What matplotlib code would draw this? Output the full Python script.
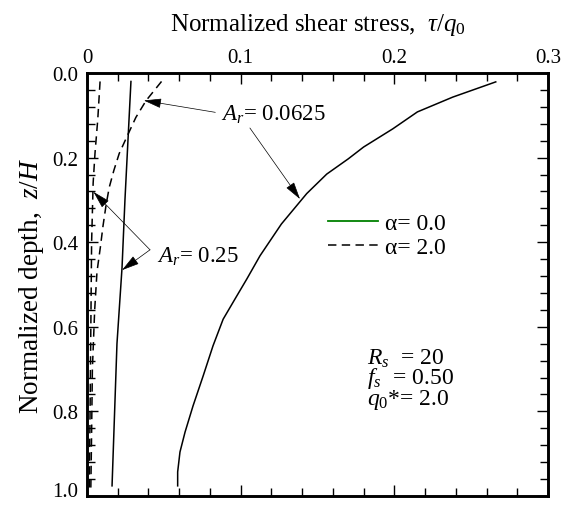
import matplotlib
matplotlib.use("Agg")
import matplotlib.pyplot as plt
from matplotlib.ticker import MultipleLocator

plt.rcParams["font.family"] = ["Liberation Serif", "DejaVu Serif"]
plt.rcParams["mathtext.fontset"] = "custom"
plt.rcParams["mathtext.rm"] = "Liberation Serif"
plt.rcParams["mathtext.it"] = "Liberation Serif:italic"

# A_r = 0.0625, alpha = 0.0 (solid)
z_a1 = [0.021, 0.057, 0.092, 0.132, 0.175, 0.203, 0.239, 0.285, 0.357, 0.432,
        0.487, 0.530, 0.582, 0.645, 0.716, 0.787, 0.849, 0.896, 0.943, 0.976]
tau_a1 = [0.266, 0.238, 0.215, 0.199, 0.180, 0.170, 0.156, 0.143, 0.1265, 0.1126,
          0.104, 0.097, 0.0886, 0.082, 0.0756, 0.069, 0.0638, 0.0605, 0.059, 0.059]

# A_r = 0.0625, alpha = 2.0 (dashed)
z_a2 = [0.020, 0.065, 0.105, 0.148, 0.19, 0.23, 0.27, 0.31, 0.362, 0.409,
        0.47, 0.56, 0.70, 0.85, 0.98]
tau_a2 = [0.0485, 0.0385, 0.0318, 0.0263, 0.021, 0.0175, 0.0145, 0.0125, 0.0104, 0.0088,
          0.0065, 0.005, 0.0035, 0.003, 0.0025]

# A_r = 0.25, alpha = 0.0 (solid)
z_b1 = [0.020, 0.30, 0.46, 0.64, 0.976]
tau_b1 = [0.0286, 0.0247, 0.0228, 0.0195, 0.0163]

# A_r = 0.25, alpha = 2.0 (dashed)
z_b2 = [0.02, 0.11, 0.19, 0.26, 0.40, 0.60, 0.80, 0.98]
tau_b2 = [0.0085, 0.007, 0.0052, 0.004, 0.003, 0.0025, 0.002, 0.0015]

x_ticks = [0, 0.1, 0.2, 0.3]
x_ticklabels = ["0", "0.1", "0.2", "0.3"]
y_ticks = [0.0, 0.2, 0.4, 0.6, 0.8, 1.0]
y_ticklabels = ["0.0", "0.2", "0.4", "0.6", "0.8", "1.0"]

fig = plt.figure(figsize=(5.62, 5.06), dpi=100)
ax = fig.add_axes([87 / 562, 1 - 497 / 506, 461 / 562, 423 / 506])

dash = (0, (5.5, 3.5))
lw = 1.1
ax.plot(tau_a1, z_a1, color="black", lw=lw)
ax.plot(tau_a2, z_a2, color="black", lw=lw, linestyle=dash)
ax.plot(tau_b1, z_b1, color="black", lw=lw)
ax.plot(tau_b2, z_b2, color="black", lw=lw, linestyle=dash)

# legend entries (proxy lines)
ax.plot([], [], color="green", lw=1.3, label="\u03b1= 0.0")
ax.plot([], [], color="black", lw=1.1, linestyle=dash, label="\u03b1= 2.0")
ax.legend(loc="upper left", bbox_to_anchor=(0.523, 0.67), frameon=False,
          fontsize=17, handlelength=2.1, handletextpad=0.3, labelspacing=0.12,
          borderaxespad=0, borderpad=0)

ax.set_xlim(0, 0.3)
ax.set_ylim(1.0, 0.0)
ax.set_xticks(x_ticks)
ax.set_xticklabels(x_ticklabels)
ax.set_yticks(y_ticks)
ax.set_yticklabels(y_ticklabels)
ax.xaxis.set_minor_locator(MultipleLocator(0.02))
ax.yaxis.set_minor_locator(MultipleLocator(0.04))
ax.tick_params(which="both", direction="in", top=True, bottom=True, left=True, right=True,
               labeltop=True, labelbottom=False, width=1.0, labelsize=15)
ax.tick_params(axis="x", pad=4)
ax.tick_params(axis="y", pad=6)
ax.tick_params(which="major", length=8)
ax.tick_params(which="minor", length=5.8)
for s in ax.spines.values():
    s.set_linewidth(2.1)

# keep the bottom "1.0" inside the canvas
ax.get_yticklabels()[-1].set_va("baseline")

ax.xaxis.set_label_position("top")
ax.set_xlabel(r"Normalized shear stress,  $\tau/q_0$", fontsize=18, labelpad=13)
ax.set_ylabel(r"Normalized depth,  $z/H$", fontsize=19.5, labelpad=5)

arrow = dict(arrowstyle="-|>,head_length=1.1,head_width=0.3", color="black",
             lw=0.5, shrinkA=0, shrinkB=0)
ax.annotate("", xy=(0.037, 0.065), xytext=(0.0835, 0.093), arrowprops=arrow)
ax.annotate("", xy=(0.1386, 0.298), xytext=(0.106, 0.130), arrowprops=arrow)
ax.text(0.0875, 0.097, r"$A_r$= 0.0625", fontsize=16.5, va="center", ha="left")

ax.annotate("", xy=(0.0042, 0.281), xytext=(0.041, 0.418), arrowprops=arrow)
ax.annotate("", xy=(0.0228, 0.466), xytext=(0.041, 0.418), arrowprops=arrow)
ax.text(0.0455, 0.433, r"$A_r$= 0.25", fontsize=16.5, va="center", ha="left")

ax.text(0.182, 0.722, "$R_s$  = 20\n$f_s$  = 0.50\n$q_0$*= 2.0", fontsize=17,
        va="center", ha="left", linespacing=0.8)

fig.savefig("out.png", dpi=100)
